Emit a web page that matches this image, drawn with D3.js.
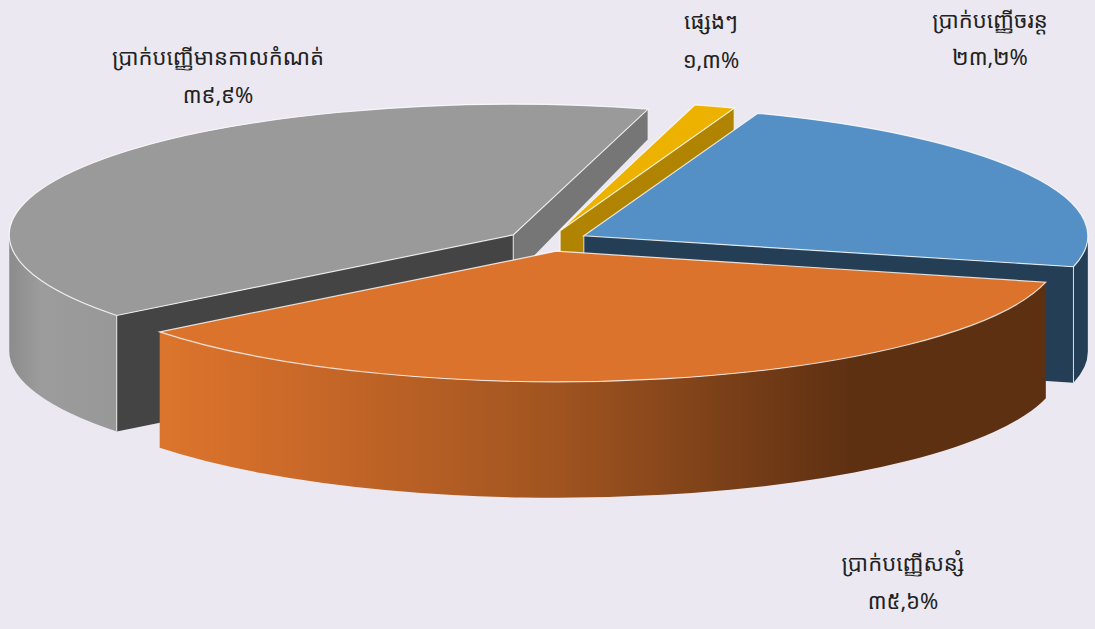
<!DOCTYPE html>
<html>
<head>
<meta charset="utf-8">
<script src="https://cdnjs.cloudflare.com/ajax/libs/d3/7.8.5/d3.min.js"></script>
<style>
html,body{margin:0;padding:0;background:#ebe8f1;overflow:hidden}
svg{display:block}
text{font-family:"Noto Sans Khmer","Khmer OS","Khmer UI","Noto Serif Khmer","DejaVu Sans","Noto Sans",sans-serif;fill:#222222;text-anchor:middle;font-size:22px}
</style>
</head>
<body>
<svg id="c" width="1095" height="629"></svg>
<script>
const categories = ["ប្រាក់បញ្ញើចរន្ត","ប្រាក់បញ្ញើសន្សំ","ប្រាក់បញ្ញើមានកាលកំណត់","ផ្សេងៗ"];
const values = [23.2,35.6,39.9,1.3];
const valueLabels = ["២៣,២%","៣៥,៦%","៣៩,៩%","១,៣%"];
const topColors = ["#5490c6","#dc732c","#9a9a9a","#edb200"];
const endWallColors = ["#243e55","#5e3012","#767676","#b08400"];
const startWallColors = ["#243e55","#5e3012","#444444","#b08400"];
const rimFills = ["#243e55","url(#orangeRim)","url(#grayRim)","#b08400"];
const drawOrder = [2,3,0,1];
const labelX = [990,903,218,711];
const labelY = [[21,57],[564,601],[58,95],[22,60]];

const W=1095,H=629,cx=547.5,cy=240.8,R=504,tilt=0.259,depth=116,explode=0.0817;
const startDeg=20.2;
const grayEndWall={apex:42,rim:30};
const edge="rgba(255,255,255,.8)";
const svg=d3.select("#c");
const defs=svg.append("defs");
function grad(id,x1,x2,stops){
  const g=defs.append("linearGradient").attr("id",id).attr("gradientUnits","userSpaceOnUse")
    .attr("x1",x1).attr("x2",x2).attr("y1",0).attr("y2",0);
  stops.forEach(s=>g.append("stop").attr("offset",s[0]).attr("stop-color",s[1]));
}
grad("orangeRim",158,1047,[[0,"#dc752c"],[0.1,"#d26d2a"],[0.45,"#a05420"],[0.78,"#5e3012"],[1,"#5e3012"]]);
grad("grayRim",8,116,[[0,"#8b8b8b"],[0.3,"#9c9c9c"],[1,"#989898"]]);

const start=startDeg*Math.PI/180;
const pie=d3.pie().sort(null).startAngle(start).endAngle(start+2*Math.PI);
const slices=pie(values);
const arc=d3.arc().innerRadius(0).outerRadius(R);
const ys=d3.scaleLinear().domain([-R,R]).range([-R*tilt,R*tilt]);

function corner(s,a,rad){const p=d3.pointRadial(a,rad);return [s.ox+p[0],s.oy+ys(p[1])];}
function wallPath(apex,rim,dA,dR){
  return d3.line()([apex,rim,[rim[0],rim[1]+dR],[apex[0],apex[1]+dA]])+"Z";
}
slices.forEach(s=>{
  const mid=(s.startAngle+s.endAngle)/2;
  const e=d3.pointRadial(mid,explode*R);
  s.ox=cx+e[0];s.oy=cy+ys(e[1]);
});

drawOrder.forEach(i=>{
  const s=slices[i];
  const g=svg.append("g");
  const apex=[s.ox,s.oy];
  // outer rim, front half only
  const lo=Math.max(s.startAngle,Math.PI/2),hi=Math.min(s.endAngle,3*Math.PI/2);
  if(hi>lo){
    const p0=corner(s,hi,R),p1=corner(s,lo,R),ry=R*tilt;
    const sweep=`M${p0}A${R},${ry} 0 0 0 ${p1}L${p1[0]},${p1[1]+depth}A${R},${ry} 0 0 1 ${p0[0]},${p0[1]+depth}Z`;
    g.append("path").attr("d",sweep).attr("fill",rimFills[i]).attr("stroke","none");
  }
  // radial walls
  if(Math.sin(s.startAngle)<0){
    g.append("path").attr("d",wallPath(apex,corner(s,s.startAngle,R),depth,depth))
     .attr("fill",startWallColors[i]);
    const c=corner(s,s.startAngle,R);
    g.append("line").attr("x1",c[0]).attr("x2",c[0]).attr("y1",c[1]).attr("y2",c[1]+depth).attr("stroke",edge);
  }
  if(Math.sin(s.endAngle)>0){
    const backWall=i===2;
    const dA=backWall?grayEndWall.apex:depth,dR=backWall?grayEndWall.rim:depth;
    const c=corner(s,s.endAngle,R);
    g.append("path").attr("d",wallPath(apex,c,dA,dR)).attr("fill",endWallColors[i]);
    g.append("line").attr("x1",c[0]).attr("x2",c[0]).attr("y1",c[1]).attr("y2",c[1]+dR).attr("stroke",edge);
    g.append("line").attr("x1",apex[0]).attr("x2",apex[0]).attr("y1",apex[1]).attr("y2",apex[1]+dA).attr("stroke",edge);
  }
  // top face
  g.append("path").attr("d",arc(s))
   .attr("transform",`translate(${s.ox},${s.oy}) scale(1,${tilt})`)
   .attr("fill",topColors[i]).attr("stroke",edge).attr("stroke-width",1.2)
   .attr("vector-effect","non-scaling-stroke");
});

categories.forEach((c,i)=>{
  svg.append("text").attr("x",labelX[i]).attr("y",labelY[i][0]+7).text(c);
  svg.append("text").attr("x",labelX[i]).attr("y",labelY[i][1]+8).text(valueLabels[i]);
});
</script>
</body>
</html>
